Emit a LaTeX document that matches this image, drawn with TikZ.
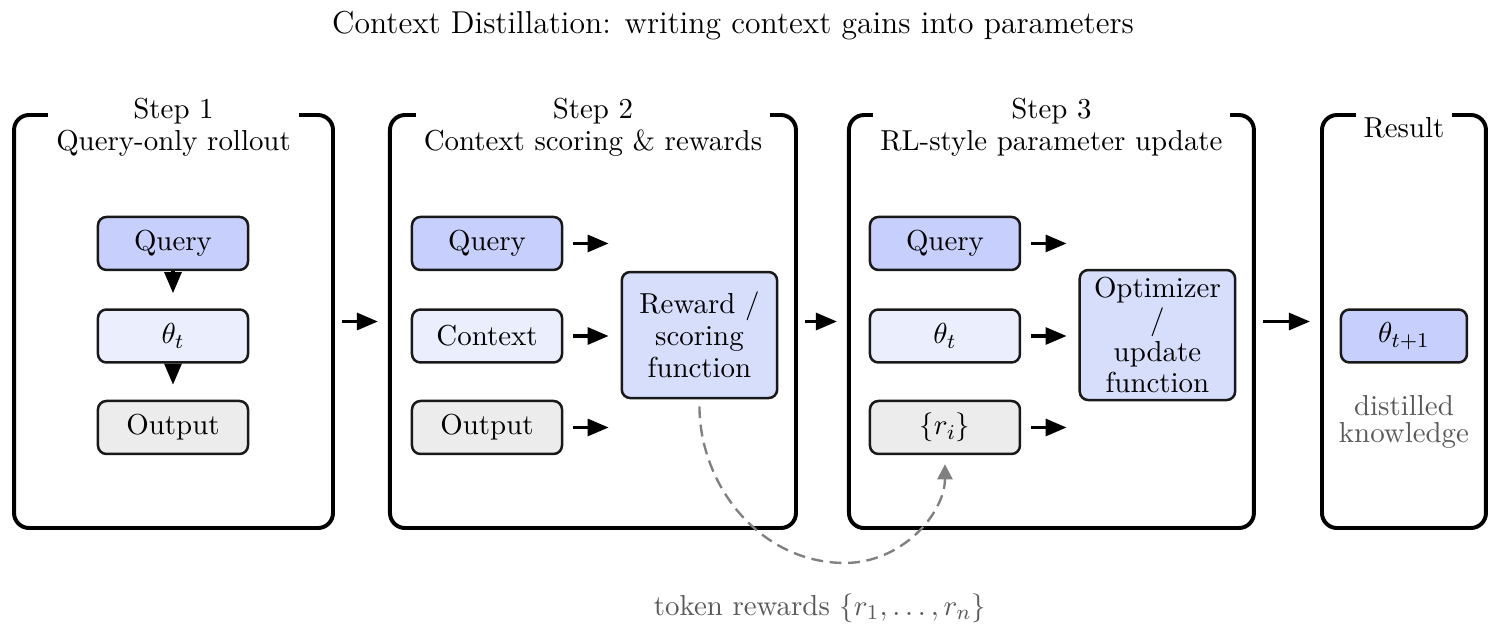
\documentclass[11pt,tikz,border=0pt]{standalone}
\usepackage{amsmath,amssymb}
\usepackage{xcolor}
\usepackage{tikz}
\usetikzlibrary{positioning, shapes, arrows.meta, calc}

\definecolor{qblue}{RGB}{199,208,252}
\definecolor{tblue}{RGB}{234,238,253}
\definecolor{ogray}{RGB}{236,236,236}
\definecolor{fblue}{RGB}{214,222,252}

\begin{document}
\begin{tikzpicture}[
  panel/.style={draw, line width=1.5pt, rounded corners=5.7pt, minimum height=5.503cm, minimum width=#1},
  ttl/.style={fill=white, align=center, inner sep=3pt},
  blk/.style={draw=black!90, line width=0.95pt, rounded corners=3.2pt, minimum width=1.999cm, minimum height=0.706cm, fill=#1},
  fnbox/.style={draw=black!90, line width=0.95pt, rounded corners=3.2pt, text width=2cm, align=center, minimum height=#1, fill=fblue, inner sep=1pt},
  arr/.style={-{Triangle[length=8pt,width=6.4pt]}, line width=1.3pt, #1},
  arr/.default=black,
  lbl/.style={text=black!65, align=center}
]
\useasboundingbox (0,0) rectangle (20,-8.448);

% ── Title ──
\node[font=\large] (title) at (9.767,-0.346) {Context Distillation: writing context gains into parameters};

% ── Panels ──
\node[panel=4.250cm] (p1) at (2.312,-4.284) {};
\node[panel=5.410cm] (p2) at (7.901,-4.284) {};
\node[panel=5.396cm] (p3) at (14.010,-4.284) {};
\node[panel=2.185cm] (p4) at (18.707,-4.284) {};

\node[ttl] (s1) at (2.312,-1.699) {Step 1\\[-1.5pt]Query-only rollout};
\node[ttl] (s2) at (7.901,-1.699) {Step 2\\[-1.5pt]Context scoring \& rewards};
\node[ttl] (s3) at (14.010,-1.699) {Step 3\\[-1.5pt]RL-style parameter update};
\node[ttl] (s4) at (18.707,-1.699) {Result};

% ── Step 1 ──
\node[blk=qblue] (q1) at (2.305,-3.244) {Query};
\node[blk=tblue] (t1) at (2.305,-4.477) {$\theta_t$};
\node[blk=ogray] (o1) at (2.305,-5.696) {Output};

% ── Step 2 ──
\node[blk=qblue] (q2) at (6.489,-3.244) {Query};
\node[blk=tblue] (c2) at (6.489,-4.477) {Context};
\node[blk=ogray] (o2) at (6.489,-5.696) {Output};
\node[fnbox=1.679cm] (rw) at (9.320,-4.464) {Reward /\\[-1.5pt]scoring\\[-1.5pt]function};

% ── Step 3 ──
\node[blk=qblue] (q3) at (12.591,-3.244) {Query};
\node[blk=tblue] (t3) at (12.591,-4.477) {$\theta_t$};
\node[blk=ogray] (ri) at (12.591,-5.696) {$\{r_i\}$};
\node[fnbox=1.732cm] (opt) at (15.422,-4.464) {Optimizer\\[-1.5pt]/\\[-1.5pt]update\\[-1.5pt]function};

% ── Result ──
\node[blk=qblue, minimum width=1.679cm] (th) at (18.707,-4.477) {$\theta_{t+1}$};
\node[lbl] (dk) at (18.707,-5.623) {distilled\\[-3.4pt]knowledge};

% ═══ ARROWS ═══
% rollout chain
\draw[arr, shorten >=5.7pt] (q1) -- (t1);
\draw[arr, shorten >=5.7pt] (t1) -- (o1);

% inputs to the scoring / update functions
\foreach \n in {q2, c2, o2}
  \draw[arr, shorten <=3.8pt, shorten >=4.5pt] (\n.east) -- (\n.east -| rw.west);
\foreach \n in {q3, t3, ri}
  \draw[arr, shorten <=3.8pt, shorten >=4.5pt] (\n.east) -- (\n.east -| opt.west);

% panel to panel
\draw[arr, shorten <=2.65pt, shorten >=3.8pt] (p1) -- (p2);
\draw[arr, shorten <=2.65pt, shorten >=3.8pt] (p2) -- (p3);
\draw[arr, shorten <=2.65pt, shorten >=3.8pt] (p3) -- (p4);

% token rewards loop
\coordinate (dip) at (11.259,-7.501);
\draw[gray, line width=0.9pt, dash pattern=on 4.5pt off 2.5pt, -{Triangle[length=5.8pt,width=5.8pt]}, shorten <=2.65pt, shorten >=3.4pt]
  (rw.south) to[out=-90, in=180] (dip) to[out=0, in=-90] (ri.south);
\node[lbl] (tok) at (10.926,-8.101) {token rewards $\{r_1,\dots,r_n\}$};

\end{tikzpicture}
\end{document}
